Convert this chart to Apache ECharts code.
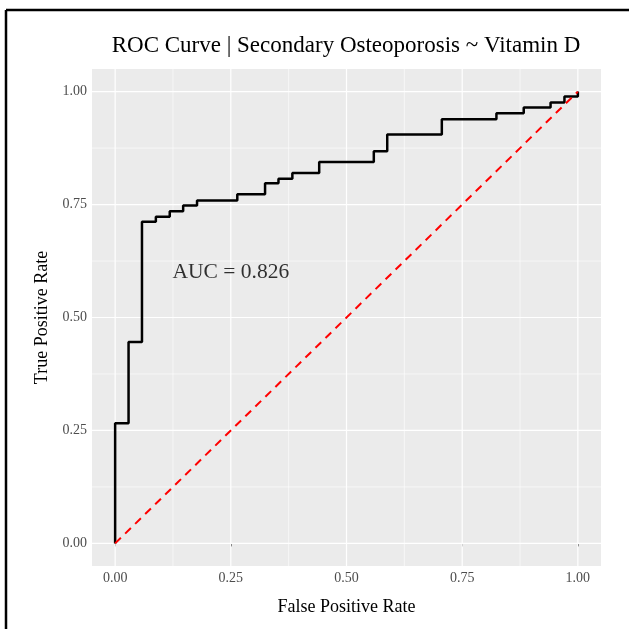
<!DOCTYPE html>
<html>
<head>
<meta charset="utf-8">
<script src="https://cdn.jsdelivr.net/npm/echarts@6/dist/echarts.min.js"></script>
<style>
  html, body { margin: 0; padding: 0; background: #fff; }
  #chart { width: 629px; height: 629px; }
</style>
</head>
<body>
<div id="chart"></div>
<script>
// ROC corner points (step 'end': go across, then up)
const fpr = [0, 0, 0.029, 0.058, 0.088, 0.118, 0.147, 0.177, 0.264, 0.324, 0.353,
  0.383, 0.441, 0.559, 0.588, 0.706, 0.824, 0.883, 0.941, 0.971, 1.0]
const tpr = [0, 0.266, 0.446, 0.712, 0.723, 0.735, 0.748, 0.759, 0.773, 0.797, 0.807,
  0.820, 0.844, 0.868, 0.905, 0.939, 0.952, 0.965, 0.976, 0.989, 1.0]
const chance = [[0, 0], [1, 1]]
const majorTicks = [0, 0.25, 0.5, 0.75, 1]
const minorTicks = [0.125, 0.375, 0.625, 0.875]
const aucText = 'AUC = 0.826'
const aucPos = [0.25, 0.6]

const lo = -0.05
const hi = 1.05
const font = 'Liberation Serif, Times New Roman, serif'

// panel grid lines, white on grey like ggplot
const gridSeries = []
const addGrid = (ticks, width) => {
  ticks.forEach((t) => {
    gridSeries.push({
      type: 'line', silent: true, symbol: 'none', z: 1,
      lineStyle: { color: '#fff', width: width },
      data: [[t, lo], [t, hi]]
    })
    gridSeries.push({
      type: 'line', silent: true, symbol: 'none', z: 1,
      lineStyle: { color: '#fff', width: width },
      data: [[lo, t], [hi, t]]
    })
  })
}
addGrid(minorTicks, 0.6)
addGrid(majorTicks, 1.2)

const tickLabel = { color: '#4d4d4d', fontFamily: font, fontSize: 14, customValues: majorTicks, formatter: (v) => v.toFixed(2) }

const chart = echarts.init(document.getElementById('chart'))
chart.setOption({
  animation: false,
  grid: { left: 92, right: 28, top: 69, bottom: 63, show: true, backgroundColor: '#ebebeb', borderWidth: 0 },
  xAxis: {
    type: 'value', min: lo, max: hi,
    name: 'False Positive Rate', nameLocation: 'middle', nameGap: 32,
    nameTextStyle: { color: '#000', fontFamily: font, fontSize: 18 },
    axisLine: { show: false },
    axisTick: { show: true, length: 3, customValues: majorTicks, lineStyle: { color: '#333' } },
    axisLabel: Object.assign({ margin: 5 }, tickLabel),
    splitLine: { show: false }
  },
  yAxis: {
    type: 'value', min: lo, max: hi,
    name: 'True Positive Rate', nameLocation: 'middle', nameGap: 40,
    nameTextStyle: { color: '#000', fontFamily: font, fontSize: 18 },
    axisLine: { show: false },
    axisTick: { show: true, length: 3, customValues: majorTicks, lineStyle: { color: '#333' } },
    axisLabel: Object.assign({ margin: 5 }, tickLabel),
    splitLine: { show: false }
  },
  graphic: [
    { type: 'text', x: 346, y: 34, style: { text: 'ROC Curve | Secondary Osteoporosis ~ Vitamin D', fill: '#000', font: '23px ' + font, textAlign: 'center' } },
    { type: 'line', shape: { x1: 6, y1: 10, x2: 629, y2: 10 }, style: { stroke: '#000', lineWidth: 2.5 } },
    { type: 'line', shape: { x1: 6, y1: 10, x2: 6, y2: 629 }, style: { stroke: '#000', lineWidth: 2.5 } }
  ],
  series: gridSeries.concat([
    {
      type: 'line', symbol: 'none', z: 3, step: 'end',
      lineStyle: { color: '#000', width: 2.5 },
      data: fpr.map((x, i) => [x, tpr[i]])
    },
    {
      type: 'line', symbol: 'none', z: 4,
      lineStyle: { color: '#ff0000', width: 2, type: [8, 6] },
      data: chance
    },
    {
      type: 'scatter', symbolSize: 0, z: 5, silent: true,
      label: { show: true, position: 'inside', formatter: aucText, color: '#000', fontFamily: font, fontSize: 21.5 },
      data: [aucPos]
    }
  ])
})
</script>
</body>
</html>
